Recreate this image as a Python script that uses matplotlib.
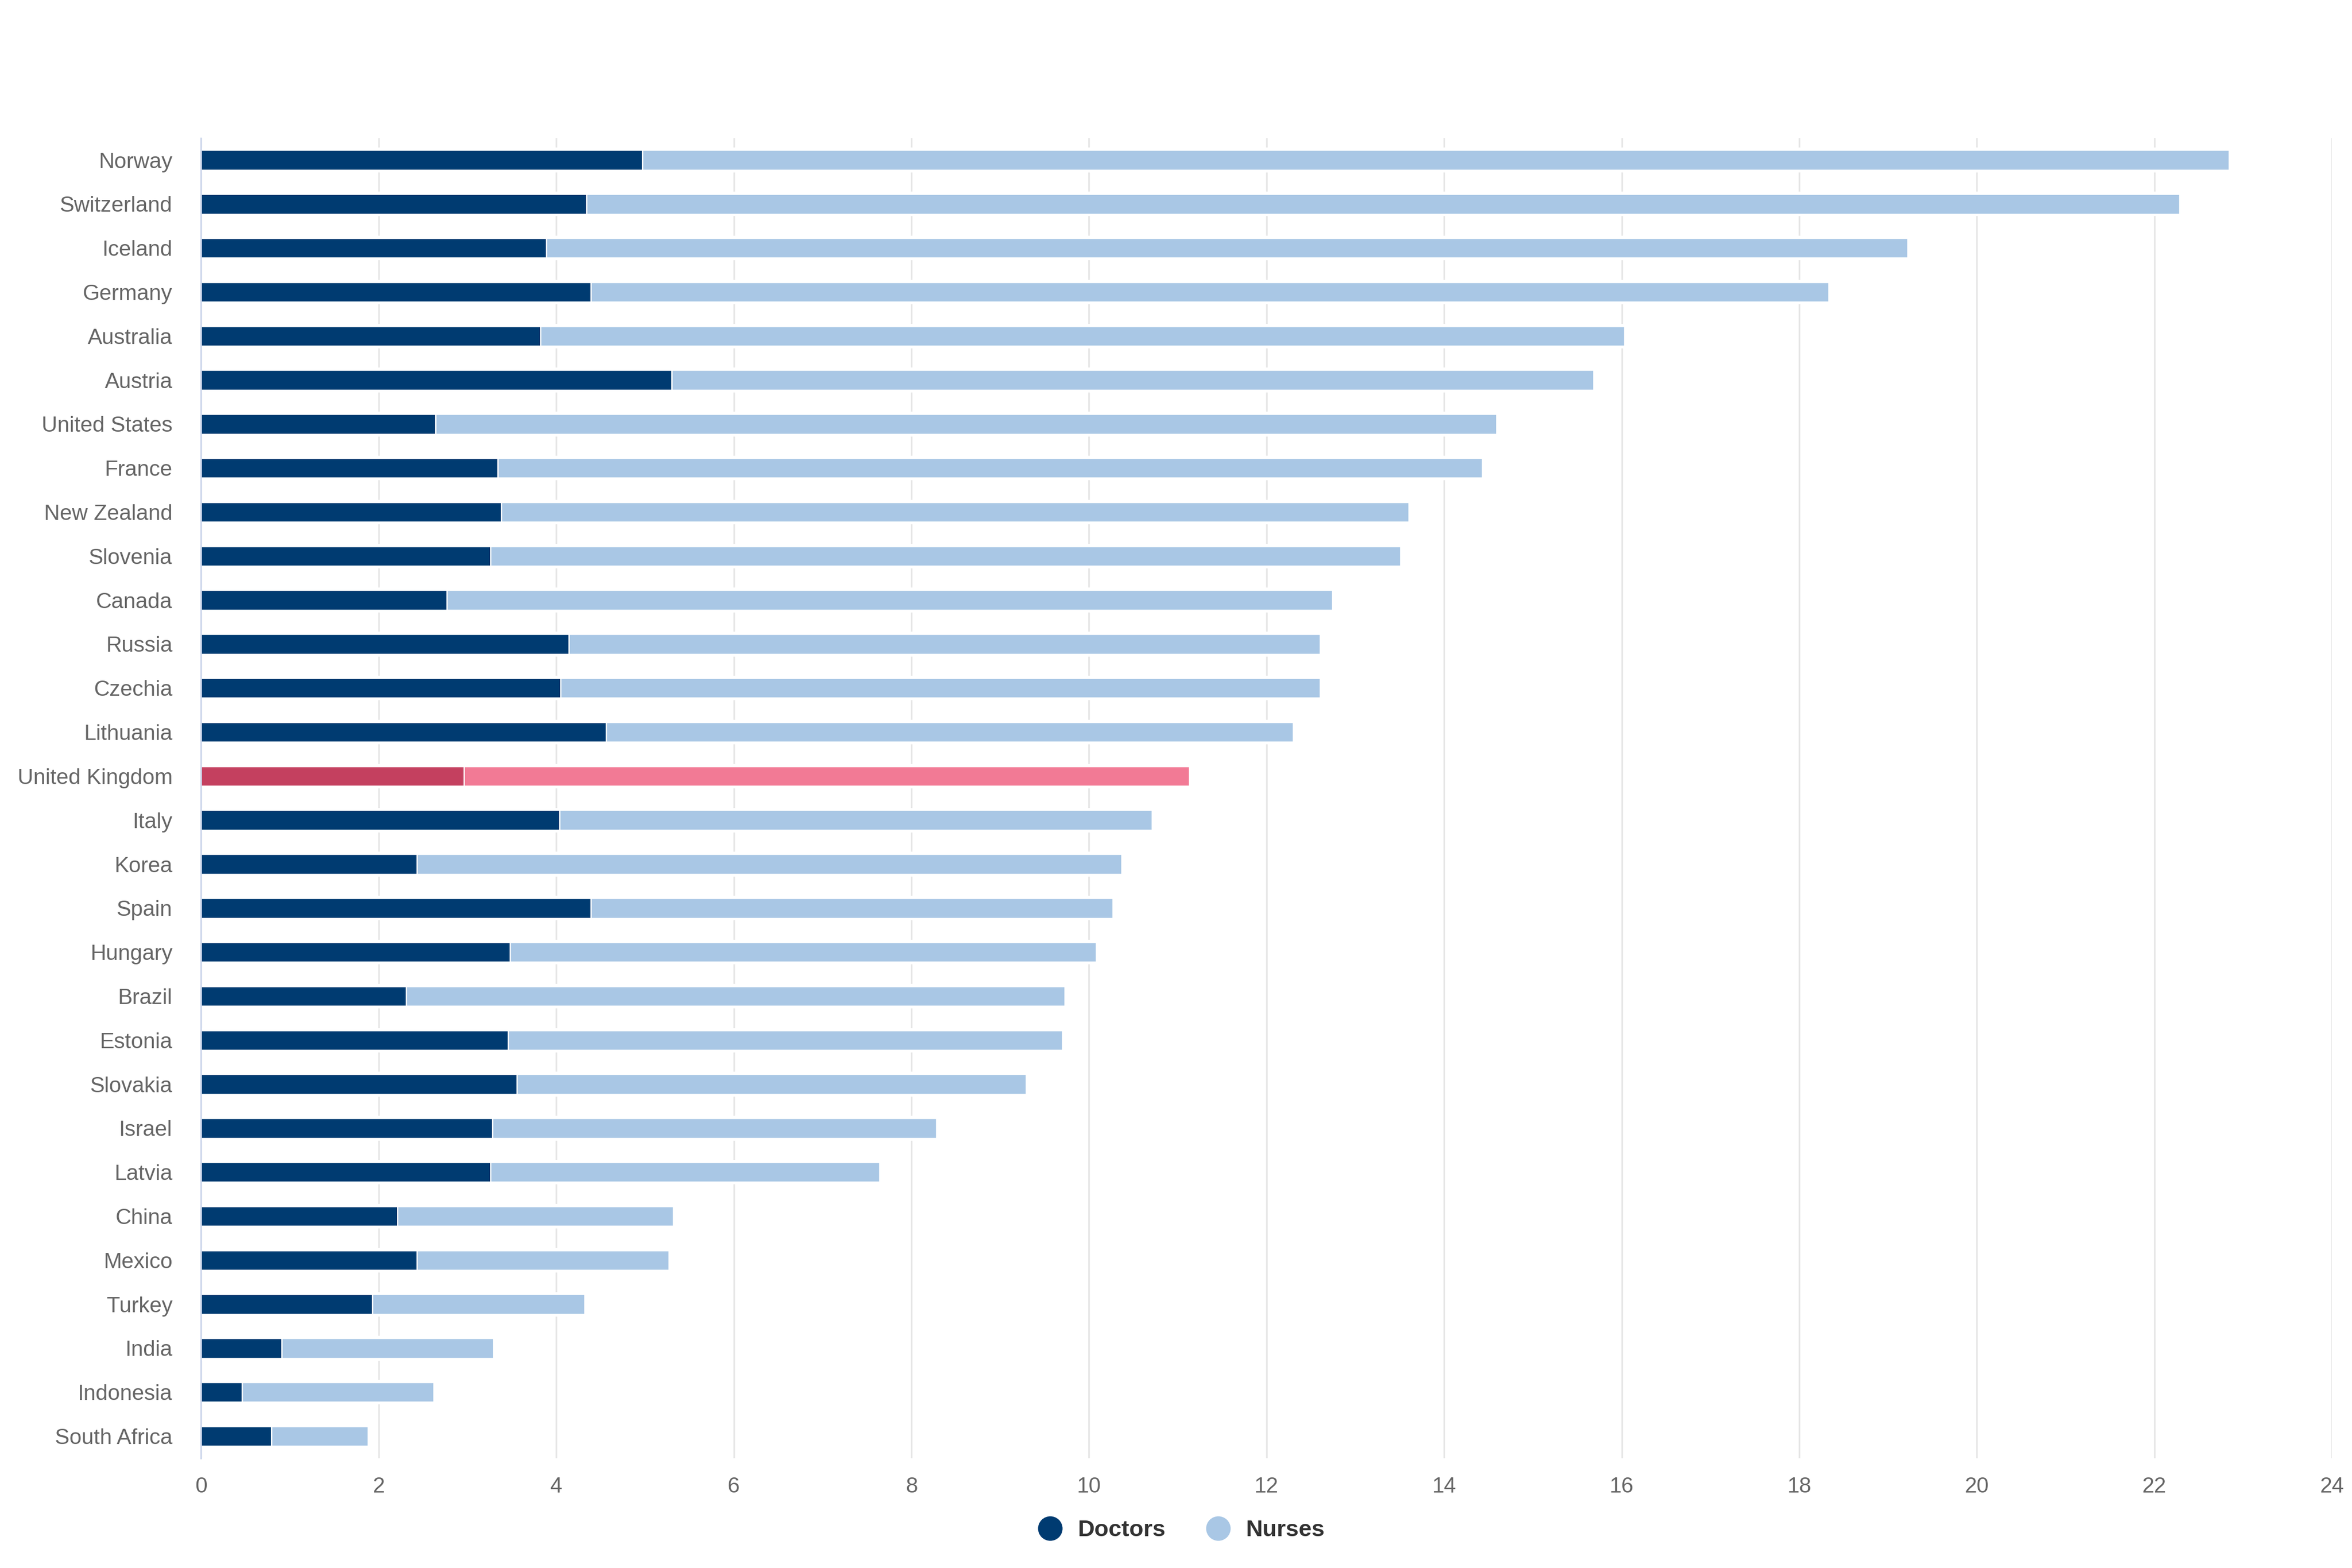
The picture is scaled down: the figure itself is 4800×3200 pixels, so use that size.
import matplotlib.pyplot as plt
from matplotlib.lines import Line2D

plt.rcParams['font.family'] = ['Liberation Sans', 'DejaVu Sans']

# donnees
pays = ['Norway', 'Switzerland', 'Iceland', 'Germany', 'Australia', 'Austria',
        'United States', 'France', 'New Zealand', 'Slovenia', 'Canada', 'Russia',
        'Czechia', 'Lithuania', 'United Kingdom', 'Italy', 'Korea', 'Spain',
        'Hungary', 'Brazil', 'Estonia', 'Slovakia', 'Israel', 'Latvia', 'China',
        'Mexico', 'Turkey', 'India', 'Indonesia', 'South Africa']
medecins = [4.97, 4.34, 3.89, 4.39, 3.82, 5.30, 2.64, 3.34, 3.38, 3.26, 2.77, 4.14,
            4.05, 4.56, 2.96, 4.04, 2.43, 4.39, 3.48, 2.31, 3.46, 3.56, 3.28, 3.26,
            2.21, 2.43, 1.93, 0.91, 0.46, 0.79]
total = [22.84, 22.28, 19.22, 18.33, 16.03, 15.68, 14.59, 14.43, 13.60, 13.51, 12.74, 12.60,
         12.60, 12.30, 11.13, 10.71, 10.37, 10.27, 10.08, 9.73, 9.70, 9.29, 8.28, 7.64,
         5.32, 5.27, 4.32, 3.29, 2.62, 1.88]
infirmiers = [t - m for t, m in zip(total, medecins)]

bleu_fonce = '#003b71'
bleu_clair = '#a9c7e5'
rouge_fonce = '#c4405f'
rouge_clair = '#f27a95'

fig = plt.figure(figsize=(16, 32 / 3), dpi=300)
ax = fig.add_axes([0.0855, 0.070, 0.906, 0.842])

y = list(range(len(pays)))
col_m = [rouge_fonce if p == 'United Kingdom' else bleu_fonce for p in pays]
col_i = [rouge_clair if p == 'United Kingdom' else bleu_clair for p in pays]

# masque blanc pour couper la grille autour des barres
ax.barh(y, total, height=0.56, color='white', zorder=1)
ax.barh(y, medecins, height=0.45, color=col_m, edgecolor='white', linewidth=0.6, zorder=2)
ax.barh(y, infirmiers, left=medecins, height=0.45, color=col_i, edgecolor='white',
        linewidth=0.6, zorder=2)

ax.set_xlim(0, 24)
ax.set_ylim(len(pays) - 0.5, -0.5)
ax.set_xticks(range(0, 25, 2))
ax.set_yticks(y)
ax.set_yticklabels(pays)
ax.tick_params(length=0, labelsize=10.7, labelcolor='#666666')
ax.tick_params(axis='y', pad=14)
ax.tick_params(axis='x', pad=9)
ax.grid(axis='x', color='#e6e6e6', linewidth=0.8, zorder=0)
ax.set_axisbelow(True)
for s in ['top', 'right', 'bottom']:
    ax.spines[s].set_visible(False)
ax.spines['left'].set_color('#ccd6eb')
ax.spines['left'].set_linewidth(0.8)
ax.spines['left'].set_zorder(3)

handles = [Line2D([], [], marker='o', linestyle='', markersize=11, color=bleu_fonce),
           Line2D([], [], marker='o', linestyle='', markersize=11, color=bleu_clair)]
leg = fig.legend(handles, ['Doctors', 'Nurses'], loc='center', bbox_to_anchor=(0.5, 0.024),
                 ncol=2, frameon=False, handletextpad=0.2, columnspacing=1.25,
                 prop={'weight': 'bold', 'size': 11.4})
for t in leg.get_texts():
    t.set_color('#333333')

plt.savefig('out.png')
